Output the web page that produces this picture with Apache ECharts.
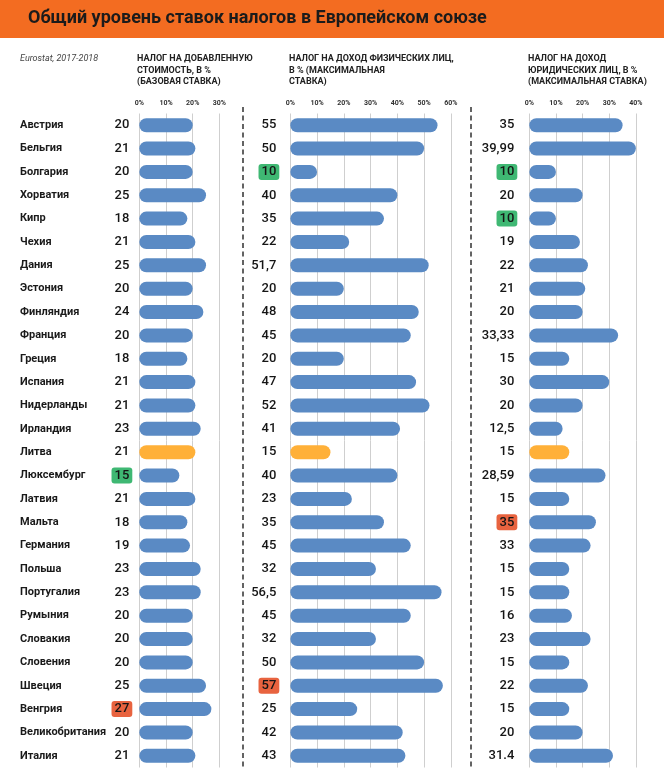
<!DOCTYPE html>
<html>
<head>
<meta charset="utf-8">
<script src="https://cdn.jsdelivr.net/npm/echarts@6/dist/echarts.min.js"></script>
<style>
html,body{margin:0;padding:0;background:#fff;}
#c{width:664px;height:777px;}
</style>
</head>
<body>
<div id="c"></div>
<script>
const countries = ['Австрия','Бельгия','Болгария','Хорватия','Кипр','Чехия','Дания','Эстония','Финляндия','Франция','Греция','Испания','Нидерланды','Ирландия','Литва','Люксембург','Латвия','Мальта','Германия','Польша','Португалия','Румыния','Словакия','Словения','Швеция','Венгрия','Великобритания','Италия'];
const vat = [20,21,20,25,18,21,25,20,24,20,18,21,21,23,21,15,21,18,19,23,23,20,20,20,25,27,20,21];
const vatLabels = ['20','21','20','25','18','21','25','20','24','20','18','21','21','23','21','15','21','18','19','23','23','20','20','20','25','27','20','21'];
const pit = [55,50,10,40,35,22,51.7,20,48,45,20,47,52,41,15,40,23,35,45,32,56.5,45,32,50,57,25,42,43];
const pitLabels = ['55','50','10','40','35','22','51,7','20','48','45','20','47','52','41','15','40','23','35','45','32','56,5','45','32','50','57','25','42','43'];
// bar lengths as drawn in the picture (Malta and Germany bars are shorter than their labels)
const cit = [35,39.99,10,20,10,19,22,21,20,33.33,15,30,20,12.5,15,28.59,15,25,23,15,15,16,23,15,22,15,20,31.4];
const citLabels = ['35','39,99','10','20','10','19','22','21','20','33,33','15','30','20','12,5','15','28,59','15','35','33','15','15','16','23','15','22','15','20','31.4'];
const vatTicksMax = 30, pitTicksMax = 60, citTicksMax = 40;
const accentCountry = 'Литва';
const vatLow = ['Люксембург'], vatHigh = ['Венгрия'];
const pitLow = ['Болгария'], pitHigh = ['Швеция'];
const citLow = ['Болгария','Кипр'], citHigh = ['Мальта'];

const BLUE = '#5A8AC4', ORANGE = '#FFB038', GREEN = '#3FB873', RED = '#E8633F';
const FONT = 'Roboto, "Noto Sans", sans-serif';

function makeData(vals, labels, low, high){
  return vals.map((v,i)=>{
    const c = countries[i];
    const item = {value:v, lab: labels[i]};
    if (c === accentCountry) item.itemStyle = {color: ORANGE};
    if (low.includes(c)) item.label = {backgroundColor: GREEN};
    if (high.includes(c)) item.label = {backgroundColor: RED};
    return item;
  });
}

const grids = [
  {left:139.3, width:80.1, top:113.5, height:654},
  {left:290.3, width:160.6, top:113.5, height:654},
  {left:529.3, width:106.6, top:113.5, height:654}
];
const maxes = [vatTicksMax, pitTicksMax, citTicksMax];
const labDist = [7, 11, 12];

const xAxes = grids.map((g,i)=>({
  type:'value', gridIndex:i, position:'top', min:0, max:maxes[i], interval:10,
  axisLine:{show:false}, axisTick:{show:false},
  splitLine:{show:true, lineStyle:{color:'#cfcfcf', width:1}},
  axisLabel:{formatter:'{value}%', fontSize:7, fontWeight:'bold', color:'#333', margin:7, fontFamily:FONT}
}));
const yAxes = grids.map((g,i)=>({
  type:'category', gridIndex:i, data:countries, inverse:true,
  axisLine:{show:false}, axisTick:{show:false},
  axisLabel: i===0 ? {show:true, align:'left', margin:119.3, fontSize:11, fontWeight:'bold', color:'#1a1a1a', fontFamily:FONT} : {show:false}
}));

const seriesData = [
  makeData(vat, vatLabels, vatLow, vatHigh),
  makeData(pit, pitLabels, pitLow, pitHigh),
  makeData(cit, citLabels, citLow, citHigh)
];
const series = seriesData.map((d,i)=>({
  type:'bar', xAxisIndex:i, yAxisIndex:i, data:d, barWidth:14,
  itemStyle:{color:BLUE, borderRadius:7},
  label:{show:true, position:'left', distance:labDist[i], formatter:p=>p.data.lab,
    fontSize:13, fontWeight:500, color:'#151515', fontFamily:FONT, padding:[2,3,1,3], borderRadius:3, backgroundColor:'transparent'},
  silent:true, animation:false
}));

const chart = echarts.init(document.getElementById('c'), null, {renderer:'canvas'});
chart.setOption({
  backgroundColor:'#fff',
  animation:false,
  title:[
    {text:'Общий уровень ставок налогов в Европейском союзе', left:28, top:9.5, padding:0,
      textStyle:{fontSize:18, fontWeight:'bold', color:'#1b1b1b', fontFamily:FONT}},
    {text:'Eurostat, 2017-2018', left:20, top:54, padding:0,
      textStyle:{fontSize:9, fontStyle:'italic', fontWeight:'normal', color:'#444', fontFamily:FONT}},
    {text:'НАЛОГ НА ДОБАВЛЕННУЮ\nСТОИМОСТЬ, В %\n(БАЗОВАЯ СТАВКА)', left:137, top:53, padding:0,
      textStyle:{fontSize:9, fontWeight:'bold', color:'#222', lineHeight:11.5, fontFamily:FONT}},
    {text:'НАЛОГ НА ДОХОД ФИЗИЧЕСКИХ ЛИЦ,\nВ % (МАКСИМАЛЬНАЯ\nСТАВКА)', left:289, top:53, padding:0,
      textStyle:{fontSize:9, fontWeight:'bold', color:'#222', lineHeight:11.5, fontFamily:FONT}},
    {text:'НАЛОГ НА ДОХОД\nЮРИДИЧЕСКИХ ЛИЦ, В %\n(МАКСИМАЛЬНАЯ СТАВКА)', left:528, top:53, padding:0,
      textStyle:{fontSize:9, fontWeight:'bold', color:'#222', lineHeight:11.5, fontFamily:FONT}}
  ],
  graphic:[
    {type:'rect', z:-1, shape:{x:0,y:0,width:664,height:38}, style:{fill:'#F36C21'}},
    {type:'line', shape:{x1:243,y1:107,x2:243,y2:770}, style:{stroke:'#222', lineWidth:1.4, lineDash:[5,3.5]}},
    {type:'line', shape:{x1:471,y1:107,x2:471,y2:770}, style:{stroke:'#222', lineWidth:1.4, lineDash:[5,3.5]}}
  ],
  grid:grids,
  xAxis:xAxes,
  yAxis:yAxes,
  series:series
});
</script>
</body>
</html>
